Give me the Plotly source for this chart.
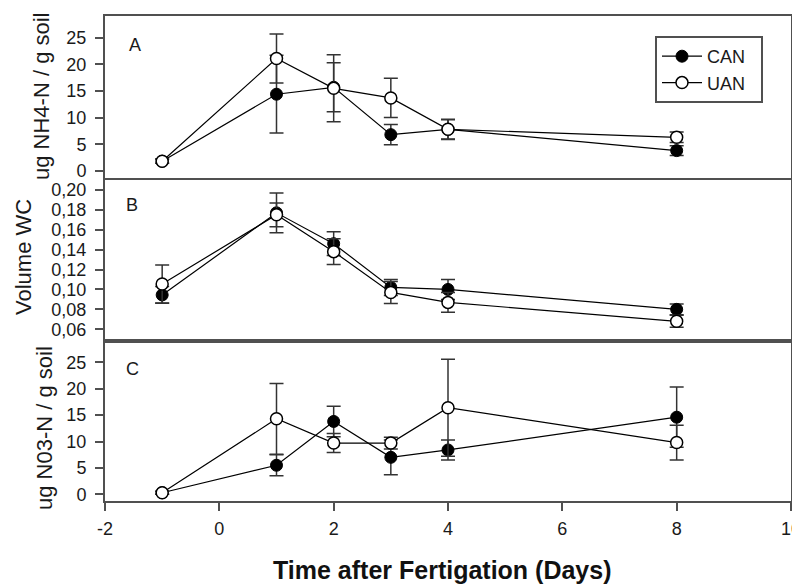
import plotly.graph_objects as go
from plotly.subplots import make_subplots

days = [-1, 1, 2, 3, 4, 8]

# Panel A: NH4-N (ug / g soil)
nh4_can = [1.8, 14.4, 15.7, 6.8, 7.8, 3.8]
nh4_can_err = [0.4, 7.3, 4.6, 1.9, 1.8, 0.9]
nh4_uan = [1.8, 21.1, 15.5, 13.7, 7.8, 6.3]
nh4_uan_err = [0.4, 4.6, 6.3, 3.7, 1.9, 1.0]

# Panel B: volumetric water content
wc_can = [0.0945, 0.177, 0.146, 0.102, 0.100, 0.080]
wc_can_err = [0.0084, 0.020, 0.012, 0.008, 0.010, 0.0055]
wc_uan = [0.1055, 0.175, 0.138, 0.097, 0.087, 0.068]
wc_uan_err = [0.019, 0.012, 0.013, 0.011, 0.010, 0.006]

# Panel C: NO3-N (ug / g soil)
no3_can = [0.3, 5.5, 13.8, 7.0, 8.4, 14.6]
no3_can_err = [0.3, 2.0, 2.9, 3.3, 1.9, 5.7]
no3_uan = [0.3, 14.3, 9.7, 9.7, 16.4, 9.8]
no3_uan_err = [0.3, 6.7, 1.8, 1.1, 9.2, 3.3]

series_names = ["CAN", "UAN"]
panel_labels = ["A", "B", "C"]
y_titles = ["ug NH4-N / g soil", "Volume WC", "ug N03-N / g soil"]
x_title = "Time after Fertigation (Days)"
x_tick_vals = [-2, 0, 2, 4, 6, 8, 10]
x_tick_text = ["-2", "0", "2", "4", "6", "8", "10"]

FONT = "Liberation Sans, Arial, sans-serif"
AXC = "#505050"
TXT = "#1a1a1a"

fig = make_subplots(rows=3, cols=1, shared_xaxes=False, vertical_spacing=0)

panels = [
    (nh4_can, nh4_can_err, nh4_uan, nh4_uan_err),
    (wc_can, wc_can_err, wc_uan, wc_uan_err),
    (no3_can, no3_can_err, no3_uan, no3_uan_err),
]

for i, (c, ce, u, ue) in enumerate(panels):
    row = i + 1
    fig.add_trace(go.Scatter(
        x=days, y=c, name=series_names[0] + "\u00a0\u00a0", mode="lines+markers",
        line=dict(color="black", width=1.2),
        marker=dict(symbol="circle", size=12, color="black",
                    line=dict(color="black", width=1)),
        error_y=dict(type="data", array=ce, visible=True, color="#333333",
                     thickness=1.5, width=7),
        showlegend=(i == 0), legendgroup="CAN"), row=row, col=1)
    fig.add_trace(go.Scatter(
        x=days, y=u, name=series_names[1] + "\u00a0\u00a0", mode="lines+markers",
        line=dict(color="black", width=1.2),
        marker=dict(symbol="circle", size=12, color="white",
                    line=dict(color="black", width=1.5)),
        error_y=dict(type="data", array=ue, visible=True, color="#333333",
                     thickness=1.5, width=7),
        showlegend=(i == 0), legendgroup="UAN"), row=row, col=1)

# window pixel -> paper coordinates (plot area: x 105..791, y 16..501 in window)
H_PLOT = 485.0
W_PLOT = 686.0
def py(px):
    return (501.0 - px) / H_PLOT
def px_(px):
    return (px - 105.0) / W_PLOT

domains = [[py(178), 1.0], [py(340.5), py(180)], [0.0, py(340.5)]]
yranges = [[-1.35, 29.1], [0.0487, 0.2100], [-1.27, 29.13]]
yticks = [[0, 5, 10, 15, 20, 25],
          [0.06, 0.08, 0.10, 0.12, 0.14, 0.16, 0.18, 0.20],
          [0, 5, 10, 15, 20, 25]]
ytickfmt = ["d", ".2f", "d"]

for i in range(3):
    xname = "xaxis" if i == 0 else f"xaxis{i+1}"
    yname = "yaxis" if i == 0 else f"yaxis{i+1}"
    fig.layout[yname].update(
        domain=domains[i], range=yranges[i], tickvals=yticks[i],
        tickformat=ytickfmt[i], ticks="outside", ticklen=8, tickwidth=1.5,
        tickcolor=AXC, showline=True, linecolor=AXC, linewidth=2,
        mirror=True, showgrid=False, zeroline=False, ticklabelstandoff=5,
        tickfont=dict(family=FONT, size=18, color=TXT))
    fig.layout[xname].update(
        range=[-2, 10], tickvals=x_tick_vals, ticktext=x_tick_text,
        showline=True, linecolor=AXC, linewidth=2, mirror=True,
        showgrid=False, zeroline=False,
        ticks="outside" if i == 2 else "", ticklen=8, tickwidth=1.5,
        tickcolor=AXC, showticklabels=(i == 2), ticklabeloverflow="allow",
        ticklabelstandoff=2,
        tickfont=dict(family=FONT, size=18, color=TXT))

annotations = []
label_pos = [(135, 45), (132, 205), (132, 369)]
for lab, (lx, ly) in zip(panel_labels, label_pos):
    annotations.append(dict(
        text=lab, xref="paper", yref="paper", x=px_(lx), y=py(ly),
        xanchor="center", yanchor="middle", showarrow=False,
        font=dict(family=FONT, size=18, color=TXT)))

title_pos = [(42, 96), (23, 257), (44, 428)]
for t, (tx, ty) in zip(y_titles, title_pos):
    annotations.append(dict(
        text=t, xref="paper", yref="paper", x=px_(tx), y=py(ty),
        xanchor="center", yanchor="middle", textangle=-90, showarrow=False,
        font=dict(family=FONT, size=22, color=TXT)))

annotations.append(dict(
    text="<b>" + x_title + "</b>", xref="paper", yref="paper",
    x=px_(442), y=py(570), xanchor="center", yanchor="middle",
    showarrow=False, font=dict(family=FONT, size=25, color="#111111")))

# The page body adds an 8 px offset, so the figure is 8 px smaller and its
# left/top margins 8 px narrower to keep the plot area where the reference has it.
OFF = 8
fig.update_layout(
    width=800 - OFF, height=586 - OFF,
    margin=dict(l=105 - OFF, r=9, t=16 - OFF, b=85, autoexpand=False),
    paper_bgcolor="white", plot_bgcolor="white",
    separators=",.",
    annotations=annotations,
    legend=dict(x=px_(655), y=py(69.5), xanchor="left", yanchor="middle",
                bgcolor="white", bordercolor=AXC, borderwidth=2,
                font=dict(family=FONT, size=18, color=TXT),
                itemwidth=40, tracegroupgap=0),
    font=dict(family=FONT),
)

fig.write_html("out.html")
